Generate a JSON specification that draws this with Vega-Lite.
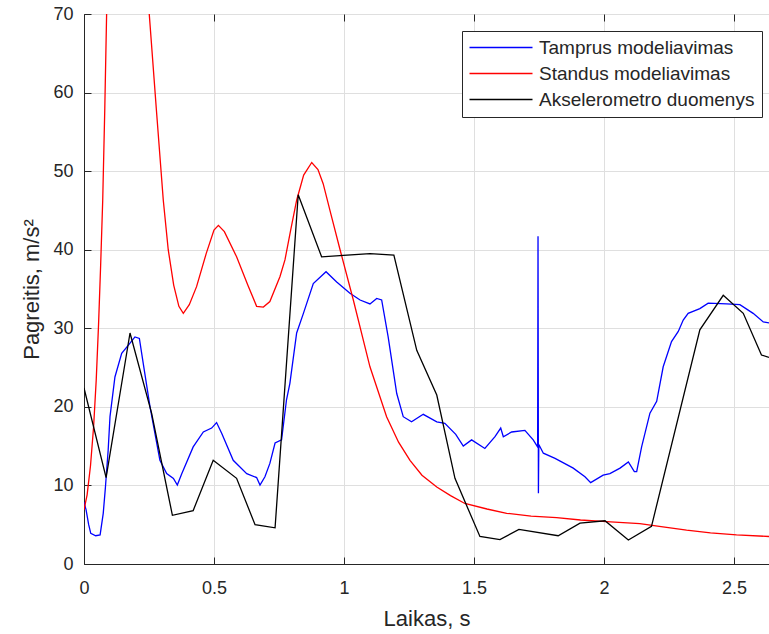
{
  "$schema": "https://vega.github.io/schema/vega-lite/v6.json",
  "width": 685,
  "height": 550,
  "autosize": "none",
  "padding": {"left": 84, "top": 14, "right": 0, "bottom": 70},
  "background": "white",
  "config": {
    "font": "Liberation Sans",
    "view": {"stroke": "#262626", "strokeWidth": 1},
    "axis": {
      "domainColor": "#262626",
      "tickColor": "#262626",
      "labelColor": "#262626",
      "titleColor": "#262626",
      "labelFont": "Liberation Sans",
      "titleFont": "Liberation Sans",
      "labelFontSize": 18,
      "titleFontSize": 22,
      "titleFontWeight": "normal",
      "gridColor": "#dfdfdf",
      "gridWidth": 1,
      "tickSize": -7,
      "tickWidth": 1
    },
    "legend": {
      "labelFont": "Liberation Sans",
      "labelFontSize": 19,
      "labelColor": "#262626"
    }
  },
  "data": {
    "values": [
      {"s": "Tamprus modeliavimas", "t": 0, "a": 7.9},
      {"s": "Tamprus modeliavimas", "t": 0.008, "a": 6.9},
      {"s": "Tamprus modeliavimas", "t": 0.018, "a": 5.0},
      {"s": "Tamprus modeliavimas", "t": 0.026, "a": 3.9},
      {"s": "Tamprus modeliavimas", "t": 0.045, "a": 3.6},
      {"s": "Tamprus modeliavimas", "t": 0.062, "a": 3.7},
      {"s": "Tamprus modeliavimas", "t": 0.074, "a": 6.45},
      {"s": "Tamprus modeliavimas", "t": 0.082, "a": 9.6},
      {"s": "Tamprus modeliavimas", "t": 0.093, "a": 14.5},
      {"s": "Tamprus modeliavimas", "t": 0.1, "a": 18.75},
      {"s": "Tamprus modeliavimas", "t": 0.119, "a": 23.8},
      {"s": "Tamprus modeliavimas", "t": 0.145, "a": 26.8},
      {"s": "Tamprus modeliavimas", "t": 0.177, "a": 28.1},
      {"s": "Tamprus modeliavimas", "t": 0.196, "a": 28.9},
      {"s": "Tamprus modeliavimas", "t": 0.213, "a": 28.7},
      {"s": "Tamprus modeliavimas", "t": 0.228, "a": 25.5},
      {"s": "Tamprus modeliavimas", "t": 0.254, "a": 20.0},
      {"s": "Tamprus modeliavimas", "t": 0.292, "a": 13.2},
      {"s": "Tamprus modeliavimas", "t": 0.318, "a": 11.5},
      {"s": "Tamprus modeliavimas", "t": 0.344, "a": 10.9},
      {"s": "Tamprus modeliavimas", "t": 0.359, "a": 10.05},
      {"s": "Tamprus modeliavimas", "t": 0.376, "a": 11.5},
      {"s": "Tamprus modeliavimas", "t": 0.42, "a": 14.9},
      {"s": "Tamprus modeliavimas", "t": 0.459, "a": 16.8},
      {"s": "Tamprus modeliavimas", "t": 0.491, "a": 17.3},
      {"s": "Tamprus modeliavimas", "t": 0.51, "a": 18.0},
      {"s": "Tamprus modeliavimas", "t": 0.53, "a": 16.6},
      {"s": "Tamprus modeliavimas", "t": 0.574, "a": 13.2},
      {"s": "Tamprus modeliavimas", "t": 0.626, "a": 11.5},
      {"s": "Tamprus modeliavimas", "t": 0.664, "a": 11.0},
      {"s": "Tamprus modeliavimas", "t": 0.677, "a": 10.05},
      {"s": "Tamprus modeliavimas", "t": 0.696, "a": 11.1},
      {"s": "Tamprus modeliavimas", "t": 0.715, "a": 12.8},
      {"s": "Tamprus modeliavimas", "t": 0.735, "a": 15.4},
      {"s": "Tamprus modeliavimas", "t": 0.76, "a": 15.8},
      {"s": "Tamprus modeliavimas", "t": 0.779, "a": 20.9},
      {"s": "Tamprus modeliavimas", "t": 0.792, "a": 23.0},
      {"s": "Tamprus modeliavimas", "t": 0.818, "a": 29.4},
      {"s": "Tamprus modeliavimas", "t": 0.844, "a": 31.9},
      {"s": "Tamprus modeliavimas", "t": 0.882, "a": 35.7},
      {"s": "Tamprus modeliavimas", "t": 0.931, "a": 37.2},
      {"s": "Tamprus modeliavimas", "t": 0.972, "a": 35.9},
      {"s": "Tamprus modeliavimas", "t": 1.023, "a": 34.45},
      {"s": "Tamprus modeliavimas", "t": 1.062, "a": 33.6},
      {"s": "Tamprus modeliavimas", "t": 1.1, "a": 33.1},
      {"s": "Tamprus modeliavimas", "t": 1.126, "a": 33.8},
      {"s": "Tamprus modeliavimas", "t": 1.145, "a": 33.6},
      {"s": "Tamprus modeliavimas", "t": 1.17, "a": 28.9},
      {"s": "Tamprus modeliavimas", "t": 1.203, "a": 21.7},
      {"s": "Tamprus modeliavimas", "t": 1.228, "a": 18.75},
      {"s": "Tamprus modeliavimas", "t": 1.26, "a": 18.1},
      {"s": "Tamprus modeliavimas", "t": 1.305, "a": 19.05},
      {"s": "Tamprus modeliavimas", "t": 1.357, "a": 18.1},
      {"s": "Tamprus modeliavimas", "t": 1.388, "a": 17.9},
      {"s": "Tamprus modeliavimas", "t": 1.43, "a": 16.5},
      {"s": "Tamprus modeliavimas", "t": 1.459, "a": 15.0},
      {"s": "Tamprus modeliavimas", "t": 1.491, "a": 15.8},
      {"s": "Tamprus modeliavimas", "t": 1.542, "a": 14.7},
      {"s": "Tamprus modeliavimas", "t": 1.581, "a": 16.2},
      {"s": "Tamprus modeliavimas", "t": 1.603, "a": 17.3},
      {"s": "Tamprus modeliavimas", "t": 1.613, "a": 16.2},
      {"s": "Tamprus modeliavimas", "t": 1.645, "a": 16.8},
      {"s": "Tamprus modeliavimas", "t": 1.696, "a": 17.0},
      {"s": "Tamprus modeliavimas", "t": 1.728, "a": 15.8},
      {"s": "Tamprus modeliavimas", "t": 1.745, "a": 14.9},
      {"s": "Tamprus modeliavimas", "t": 1.7465, "a": 41.7},
      {"s": "Tamprus modeliavimas", "t": 1.748, "a": 9.0},
      {"s": "Tamprus modeliavimas", "t": 1.7495, "a": 15.2},
      {"s": "Tamprus modeliavimas", "t": 1.767, "a": 14.1},
      {"s": "Tamprus modeliavimas", "t": 1.812, "a": 13.45},
      {"s": "Tamprus modeliavimas", "t": 1.882, "a": 12.2},
      {"s": "Tamprus modeliavimas", "t": 1.927, "a": 11.1},
      {"s": "Tamprus modeliavimas", "t": 1.949, "a": 10.35},
      {"s": "Tamprus modeliavimas", "t": 1.997, "a": 11.3},
      {"s": "Tamprus modeliavimas", "t": 2.023, "a": 11.5},
      {"s": "Tamprus modeliavimas", "t": 2.062, "a": 12.2},
      {"s": "Tamprus modeliavimas", "t": 2.094, "a": 13.0},
      {"s": "Tamprus modeliavimas", "t": 2.117, "a": 11.75},
      {"s": "Tamprus modeliavimas", "t": 2.126, "a": 11.75},
      {"s": "Tamprus modeliavimas", "t": 2.145, "a": 14.9},
      {"s": "Tamprus modeliavimas", "t": 2.177, "a": 19.2},
      {"s": "Tamprus modeliavimas", "t": 2.203, "a": 20.7},
      {"s": "Tamprus modeliavimas", "t": 2.228, "a": 25.1},
      {"s": "Tamprus modeliavimas", "t": 2.26, "a": 28.3},
      {"s": "Tamprus modeliavimas", "t": 2.286, "a": 29.6},
      {"s": "Tamprus modeliavimas", "t": 2.305, "a": 31.05},
      {"s": "Tamprus modeliavimas", "t": 2.324, "a": 31.9},
      {"s": "Tamprus modeliavimas", "t": 2.369, "a": 32.5},
      {"s": "Tamprus modeliavimas", "t": 2.401, "a": 33.2},
      {"s": "Tamprus modeliavimas", "t": 2.472, "a": 33.1},
      {"s": "Tamprus modeliavimas", "t": 2.523, "a": 33.0},
      {"s": "Tamprus modeliavimas", "t": 2.574, "a": 31.9},
      {"s": "Tamprus modeliavimas", "t": 2.613, "a": 30.8},
      {"s": "Tamprus modeliavimas", "t": 2.635, "a": 30.7},

      {"s": "Standus modeliavimas", "t": 0, "a": 6.9},
      {"s": "Standus modeliavimas", "t": 0.012, "a": 8.8},
      {"s": "Standus modeliavimas", "t": 0.025, "a": 12.5},
      {"s": "Standus modeliavimas", "t": 0.037, "a": 17.5},
      {"s": "Standus modeliavimas", "t": 0.047, "a": 23.4},
      {"s": "Standus modeliavimas", "t": 0.056, "a": 30.5},
      {"s": "Standus modeliavimas", "t": 0.064, "a": 38.0},
      {"s": "Standus modeliavimas", "t": 0.072, "a": 46.3},
      {"s": "Standus modeliavimas", "t": 0.08, "a": 58.0},
      {"s": "Standus modeliavimas", "t": 0.087, "a": 70.0},
      {"s": "Standus modeliavimas", "t": 0.11, "a": 88.0},
      {"s": "Standus modeliavimas", "t": 0.15, "a": 99.0},
      {"s": "Standus modeliavimas", "t": 0.19, "a": 97.0},
      {"s": "Standus modeliavimas", "t": 0.225, "a": 84.0},
      {"s": "Standus modeliavimas", "t": 0.251, "a": 70.0},
      {"s": "Standus modeliavimas", "t": 0.278, "a": 58.0},
      {"s": "Standus modeliavimas", "t": 0.305, "a": 46.3},
      {"s": "Standus modeliavimas", "t": 0.324, "a": 40.0},
      {"s": "Standus modeliavimas", "t": 0.345, "a": 35.5},
      {"s": "Standus modeliavimas", "t": 0.365, "a": 32.8},
      {"s": "Standus modeliavimas", "t": 0.382, "a": 31.9},
      {"s": "Standus modeliavimas", "t": 0.405, "a": 33.0},
      {"s": "Standus modeliavimas", "t": 0.433, "a": 35.3},
      {"s": "Standus modeliavimas", "t": 0.47, "a": 39.5},
      {"s": "Standus modeliavimas", "t": 0.5, "a": 42.5},
      {"s": "Standus modeliavimas", "t": 0.517, "a": 43.1},
      {"s": "Standus modeliavimas", "t": 0.54, "a": 42.3},
      {"s": "Standus modeliavimas", "t": 0.587, "a": 39.1},
      {"s": "Standus modeliavimas", "t": 0.63, "a": 35.5},
      {"s": "Standus modeliavimas", "t": 0.664, "a": 32.8},
      {"s": "Standus modeliavimas", "t": 0.69, "a": 32.7},
      {"s": "Standus modeliavimas", "t": 0.715, "a": 33.4},
      {"s": "Standus modeliavimas", "t": 0.754, "a": 36.6},
      {"s": "Standus modeliavimas", "t": 0.773, "a": 38.7},
      {"s": "Standus modeliavimas", "t": 0.795, "a": 42.5},
      {"s": "Standus modeliavimas", "t": 0.818, "a": 46.3},
      {"s": "Standus modeliavimas", "t": 0.845, "a": 49.5},
      {"s": "Standus modeliavimas", "t": 0.876, "a": 51.1},
      {"s": "Standus modeliavimas", "t": 0.9, "a": 50.2},
      {"s": "Standus modeliavimas", "t": 0.92, "a": 48.4},
      {"s": "Standus modeliavimas", "t": 0.95, "a": 44.5},
      {"s": "Standus modeliavimas", "t": 0.985, "a": 40.0},
      {"s": "Standus modeliavimas", "t": 1.036, "a": 33.6},
      {"s": "Standus modeliavimas", "t": 1.1, "a": 25.1},
      {"s": "Standus modeliavimas", "t": 1.164, "a": 18.75},
      {"s": "Standus modeliavimas", "t": 1.21, "a": 15.5},
      {"s": "Standus modeliavimas", "t": 1.254, "a": 13.2},
      {"s": "Standus modeliavimas", "t": 1.3, "a": 11.3},
      {"s": "Standus modeliavimas", "t": 1.357, "a": 9.8},
      {"s": "Standus modeliavimas", "t": 1.41, "a": 8.7},
      {"s": "Standus modeliavimas", "t": 1.465, "a": 7.7},
      {"s": "Standus modeliavimas", "t": 1.55, "a": 7.0},
      {"s": "Standus modeliavimas", "t": 1.626, "a": 6.45},
      {"s": "Standus modeliavimas", "t": 1.72, "a": 6.1},
      {"s": "Standus modeliavimas", "t": 1.818, "a": 5.9},
      {"s": "Standus modeliavimas", "t": 1.91, "a": 5.6},
      {"s": "Standus modeliavimas", "t": 2.01, "a": 5.4},
      {"s": "Standus modeliavimas", "t": 2.138, "a": 5.15},
      {"s": "Standus modeliavimas", "t": 2.22, "a": 4.75},
      {"s": "Standus modeliavimas", "t": 2.318, "a": 4.3},
      {"s": "Standus modeliavimas", "t": 2.41, "a": 3.95},
      {"s": "Standus modeliavimas", "t": 2.51, "a": 3.7},
      {"s": "Standus modeliavimas", "t": 2.635, "a": 3.5},

      {"s": "Akselerometro duomenys", "t": 0, "a": 22.4},
      {"s": "Akselerometro duomenys", "t": 0.085, "a": 11.0},
      {"s": "Akselerometro duomenys", "t": 0.177, "a": 29.4},
      {"s": "Akselerometro duomenys", "t": 0.26, "a": 19.2},
      {"s": "Akselerometro duomenys", "t": 0.34, "a": 6.2},
      {"s": "Akselerometro duomenys", "t": 0.42, "a": 6.8},
      {"s": "Akselerometro duomenys", "t": 0.497, "a": 13.2},
      {"s": "Akselerometro duomenys", "t": 0.587, "a": 10.9},
      {"s": "Akselerometro duomenys", "t": 0.658, "a": 5.0},
      {"s": "Akselerometro duomenys", "t": 0.735, "a": 4.6},
      {"s": "Akselerometro duomenys", "t": 0.824, "a": 47.0},
      {"s": "Akselerometro duomenys", "t": 0.914, "a": 39.1},
      {"s": "Akselerometro duomenys", "t": 1.1, "a": 39.5},
      {"s": "Akselerometro duomenys", "t": 1.192, "a": 39.3},
      {"s": "Akselerometro duomenys", "t": 1.28, "a": 27.2},
      {"s": "Akselerometro duomenys", "t": 1.357, "a": 21.5},
      {"s": "Akselerometro duomenys", "t": 1.427, "a": 10.9},
      {"s": "Akselerometro duomenys", "t": 1.523, "a": 3.5},
      {"s": "Akselerometro duomenys", "t": 1.6, "a": 3.1},
      {"s": "Akselerometro duomenys", "t": 1.673, "a": 4.4},
      {"s": "Akselerometro duomenys", "t": 1.824, "a": 3.6},
      {"s": "Akselerometro duomenys", "t": 1.908, "a": 5.2},
      {"s": "Akselerometro duomenys", "t": 2.004, "a": 5.5},
      {"s": "Akselerometro duomenys", "t": 2.094, "a": 3.05},
      {"s": "Akselerometro duomenys", "t": 2.183, "a": 4.8},
      {"s": "Akselerometro duomenys", "t": 2.369, "a": 29.8},
      {"s": "Akselerometro duomenys", "t": 2.459, "a": 34.2},
      {"s": "Akselerometro duomenys", "t": 2.536, "a": 31.9},
      {"s": "Akselerometro duomenys", "t": 2.606, "a": 26.6},
      {"s": "Akselerometro duomenys", "t": 2.635, "a": 26.3}
    ]
  },
  "layer": [
    {
      "mark": {"type": "line", "clip": true, "strokeWidth": 1.3},
      "encoding": {
        "x": {
          "field": "t", "type": "quantitative",
          "scale": {"domain": [0, 2.635], "nice": false, "zero": false},
          "axis": {"values": [0, 0.5, 1, 1.5, 2, 2.5], "format": "~g", "title": "Laikas, s", "labelPadding": 22, "titlePadding": 11, "labelFlush": false}
        },
        "y": {
          "field": "a", "type": "quantitative",
          "scale": {"domain": [0, 70], "nice": false},
          "axis": {"values": [0, 10, 20, 30, 40, 50, 60, 70], "title": "Pagreitis, m/s²", "labelPadding": 18, "titlePadding": 9, "labelFlush": false}
        },
        "color": {
          "field": "s", "type": "nominal",
          "sort": ["Tamprus modeliavimas", "Standus modeliavimas", "Akselerometro duomenys"],
          "scale": {"domain": ["Tamprus modeliavimas", "Standus modeliavimas", "Akselerometro duomenys"], "range": ["#0000ff", "#ff0000", "#000000"]},
          "legend": {
            "title": null,
            "orient": "none",
            "legendX": 378,
            "legendY": 17,
            "symbolType": "M-3.9375,0H3.9375",
            "symbolSize": 256,
            "symbolStrokeWidth": 1.3,
            "symbolOffset": 22.5,
            "labelOffset": 28.5,
            "labelLimit": 0,
            "padding": 7,
            "rowPadding": 6,
            "strokeColor": "#262626",
            "fillColor": "white"
          }
        }
      }
    },
    {
      "mark": {"type": "line", "opacity": 0},
      "encoding": {
        "x": {
          "field": "t", "type": "quantitative",
          "axis": {"orient": "top", "values": [0, 0.5, 1, 1.5, 2, 2.5], "labels": false, "title": null, "grid": false, "domain": false}
        },
        "y": {"field": "a", "type": "quantitative"}
      }
    }
  ],
  "resolve": {"axis": {"x": "independent"}}
}
